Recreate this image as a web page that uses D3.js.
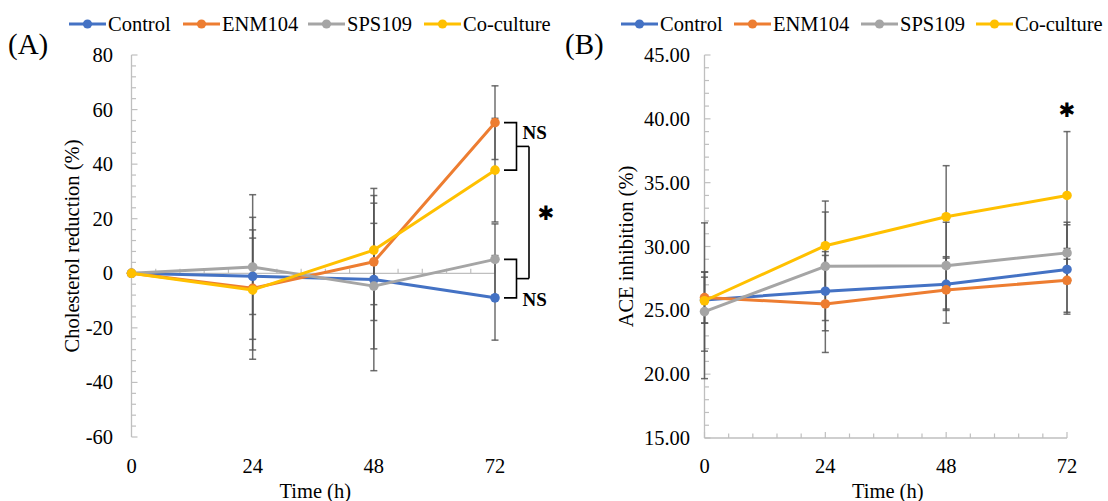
<!DOCTYPE html>
<html>
<head>
<meta charset="utf-8">
<script src="https://cdn.jsdelivr.net/npm/d3@7"></script>
<style>
  html, body { margin: 0; padding: 0; background: #fff; }
  svg { display: block; }
  text { font-family: "Liberation Serif", "Times New Roman", serif; fill: #000; }
</style>
</head>
<body>
<svg id="chart" width="1108" height="501"></svg>
<script>
// Sampling times (h)
const hours = [0, 24, 48, 72];
const hourTicks = [0, 24, 48, 72];

const seriesNames = ["Control", "ENM104", "SPS109", "Co-culture"];
const seriesColors = ["#4472C4", "#ED7D31", "#A5A5A5", "#FFC000"];

// (A) Cholesterol reduction (%) — means and standard deviations
const cholControl = [0, -1.1, -2.3, -9.0];
const cholENM104 = [0, -5.5, 4.2, 55.2];
const cholSPS109 = [0, 2.3, -4.7, 5.1];
const cholCoculture = [0, -6.1, 8.5, 37.8];
const cholControlSD = [0, 14, 33.4, 15.5];
const cholENM104SD = [0, 26, 21.5, 13.5];
const cholSPS109SD = [0, 26.5, 23, 13];
const cholCocultureSD = [0, 22, 20, 19];
const cholTicks = [-60, -40, -20, 0, 20, 40, 60, 80];

// (B) ACE inhibition (%) — means and standard deviations
const aceControl = [25.8, 26.5, 27.04, 28.2];
const aceENM104 = [26.0, 25.5, 26.6, 27.35];
const aceSPS109 = [24.9, 28.45, 28.5, 29.5];
const aceCoculture = [25.75, 30.06, 32.33, 34.0];
const aceControlSD = [1.8, 3.1, 2.05, 3.5];
const aceENM104SD = [2.0, 3.8, 2.6, 2.5];
const aceSPS109SD = [3.1, 4.25, 3.4, 2.4];
const aceCocultureSD = [6.1, 3.5, 4.0, 5.0];
const aceTicks = [15, 20, 25, 30, 35, 40, 45];

const svg = d3.select("#chart");
const FS = 20.5;

function drawPanel(cfg) {
  const g = svg.append("g");
  const x = d3.scaleLinear().domain([0, 72]).range(cfg.xRange);
  const y = d3.scaleLinear().domain(cfg.yDomain).range(cfg.yRange);
  const axisColor = "#BFBFBF";

  // vertical axis with inward minor/major ticks
  g.append("line").attr("x1", x(0)).attr("x2", x(0))
    .attr("y1", y(cfg.yDomain[0])).attr("y2", y(cfg.yDomain[1]))
    .attr("stroke", axisColor).attr("stroke-width", 1.3);
  const yMinor = d3.range(cfg.yDomain[0], cfg.yDomain[1] + 1e-9, cfg.yMinorStep);
  g.selectAll(null).data(yMinor).join("line")
    .attr("x1", x(0)).attr("x2", d => x(0) + (cfg.yTicks.includes(+d.toFixed(6)) ? 6 : 4.5))
    .attr("y1", d => y(d)).attr("y2", d => y(d))
    .attr("stroke", axisColor).attr("stroke-width", 1.2);

  // horizontal axis crossing at cfg.xCross
  const yc = y(cfg.xCross);
  g.append("line").attr("x1", x(0)).attr("x2", x(72))
    .attr("y1", yc).attr("y2", yc)
    .attr("stroke", axisColor).attr("stroke-width", 1.3);
  const xMinor = d3.range(0, 72 + 1e-9, 4.8);
  g.selectAll(null).data(xMinor).join("line")
    .attr("x1", d => x(d)).attr("x2", d => x(d))
    .attr("y1", yc).attr("y2", d => yc - (Math.abs(d % 24) < 1e-6 || Math.abs(d % 24 - 24) < 1e-6 ? 6 : 4.5))
    .attr("stroke", axisColor).attr("stroke-width", 1.2);

  // tick labels
  g.selectAll(null).data(cfg.yTicks).join("text")
    .attr("x", cfg.yLabelX).attr("y", d => y(d))
    .attr("text-anchor", "end").attr("dominant-baseline", "central")
    .style("font-size", FS + "px")
    .text(cfg.yFormat);
  g.selectAll(null).data(hourTicks).join("text")
    .attr("x", d => x(d)).attr("y", 466)
    .attr("text-anchor", "middle").attr("dominant-baseline", "central")
    .style("font-size", FS + "px")
    .text(d => d);

  // axis titles
  g.append("text").attr("x", (cfg.xRange[0] + cfg.xRange[1]) / 2 + 2).attr("y", 491)
    .attr("text-anchor", "middle").attr("dominant-baseline", "central")
    .style("font-size", FS + "px").text("Time (h)");
  g.append("text")
    .attr("transform", `translate(${cfg.yTitleX},${(cfg.yRange[0] + cfg.yRange[1]) / 2}) rotate(-90)`)
    .attr("text-anchor", "middle").attr("dominant-baseline", "central")
    .style("font-size", FS + "px").text(cfg.yTitle);

  // panel letter
  g.append("text").attr("x", cfg.letterX).attr("y", 54)
    .style("font-size", "29px").text(cfg.letter);

  // error bars
  const bars = [];
  cfg.series.forEach((s, i) => {
    s.values.forEach((v, j) => {
      if (s.sd[j] > 0) bars.push({ t: hours[j], v, sd: s.sd[j] });
    });
  });
  const eb = g.append("g").attr("stroke", "#555").attr("stroke-width", 1.5).attr("stroke-opacity", 0.85);
  bars.forEach(b => {
    const cx = x(b.t);
    eb.append("line").attr("x1", cx).attr("x2", cx).attr("y1", y(b.v - b.sd)).attr("y2", y(b.v + b.sd));
    [b.v - b.sd, b.v + b.sd].forEach(e => {
      eb.append("line").attr("x1", cx - 3.5).attr("x2", cx + 3.5).attr("y1", y(e)).attr("y2", y(e));
    });
  });

  // lines and markers
  const line = d3.line().x((d, j) => x(hours[j])).y(d => y(d));
  cfg.series.forEach((s, i) => {
    g.append("path").datum(s.values).attr("d", line)
      .attr("fill", "none").attr("stroke", seriesColors[i]).attr("stroke-width", 3)
      .attr("stroke-linejoin", "round");
    g.selectAll(null).data(s.values).join("circle")
      .attr("cx", (d, j) => x(hours[j])).attr("cy", d => y(d)).attr("r", 4.8)
      .attr("fill", seriesColors[i]);
  });

  // legend
  const lg = g.append("g");
  cfg.legendX.forEach((lx, i) => {
    lg.append("line").attr("x1", lx).attr("x2", lx + 37).attr("y1", 24).attr("y2", 24)
      .attr("stroke", seriesColors[i]).attr("stroke-width", 3);
    lg.append("circle").attr("cx", lx + 18.5).attr("cy", 24).attr("r", 4.6).attr("fill", seriesColors[i]);
    lg.append("text").attr("x", lx + 39).attr("y", 24).attr("dominant-baseline", "central")
      .style("font-size", FS + "px").text(seriesNames[i]);
  });

  return { g, x, y };
}

// Panel A
const A = drawPanel({
  letter: "(A)", letterX: 8,
  xRange: [131.5, 495], yDomain: [-60, 80], yRange: [437, 55],
  yTicks: cholTicks, yMinorStep: 4, yFormat: d => d, xCross: 0,
  yLabelX: 113, yTitleX: 72, yTitle: "Cholesterol reduction (%)",
  legendX: [69, 183, 308, 424],
  series: [
    { values: cholControl, sd: cholControlSD },
    { values: cholENM104, sd: cholENM104SD },
    { values: cholSPS109, sd: cholSPS109SD },
    { values: cholCoculture, sd: cholCocultureSD }
  ]
});

// Panel B
const B = drawPanel({
  letter: "(B)", letterX: 565,
  xRange: [704.5, 1067], yDomain: [15, 45], yRange: [438, 55],
  yTicks: aceTicks, yMinorStep: 1, yFormat: d => d.toFixed(2), xCross: 15,
  yLabelX: 690, yTitleX: 626, yTitle: "ACE inhibition (%)",
  legendX: [621, 734, 861, 976],
  series: [
    { values: aceControl, sd: aceControlSD },
    { values: aceENM104, sd: aceENM104SD },
    { values: aceSPS109, sd: aceSPS109SD },
    { values: aceCoculture, sd: aceCocultureSD }
  ]
});

// Significance brackets at 72 h in panel A
(function () {
  const { g, x, y } = A;
  const x0 = x(72) + 9, x1 = x(72) + 21.5, x2 = x(72) + 34;
  const br = g.append("g").attr("stroke", "#000").attr("stroke-width", 1.6).attr("fill", "none");
  const pairs = [[cholENM104[3], cholCoculture[3]], [cholSPS109[3], cholControl[3]]];
  const mids = [];
  pairs.forEach(([a, b]) => {
    const ya = y(a), yb = y(b);
    br.append("path").attr("d", `M${x0},${ya}H${x1}V${yb}H${x0}`);
    const ym = (ya + yb) / 2;
    mids.push(ym);
    br.append("line").attr("x1", x1).attr("x2", x2).attr("y1", ym).attr("y2", ym);
  });
  br.append("line").attr("x1", x2).attr("x2", x2).attr("y1", mids[0]).attr("y2", mids[1]);
  g.append("text").attr("x", x1 + 6).attr("y", y(cholENM104[3]) + 10)
    .attr("dominant-baseline", "central").style("font-size", "19px").style("font-weight", "bold").text("NS");
  g.append("text").attr("x", x1 + 6).attr("y", y(cholControl[3]) + 2)
    .attr("dominant-baseline", "central").style("font-size", "19px").style("font-weight", "bold").text("NS");
  g.append("text").attr("x", x2 + 17).attr("y", (mids[0] + mids[1]) / 2)
    .attr("text-anchor", "middle").attr("dominant-baseline", "central")
    .style("font-family", "DejaVu Sans").style("font-size", "20px").text("\u2731");
})();

// Significance mark at 72 h in panel B
B.g.append("text").attr("x", B.x(72)).attr("y", 110)
  .attr("text-anchor", "middle").attr("dominant-baseline", "central")
  .style("font-family", "DejaVu Sans").style("font-size", "20px").text("\u2731");
</script>
</body>
</html>
